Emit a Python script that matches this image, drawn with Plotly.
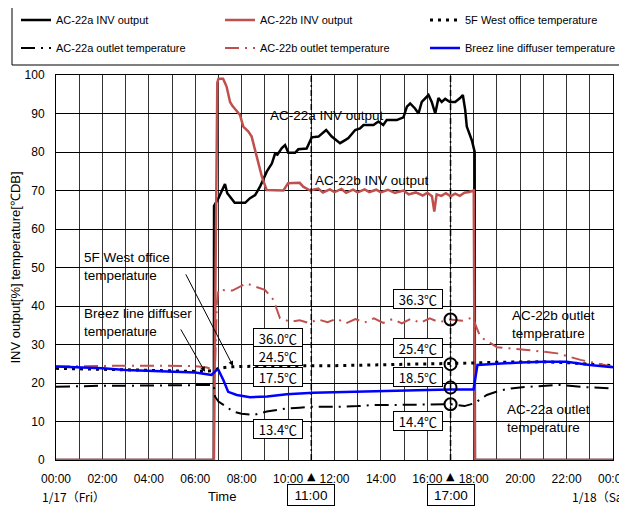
import plotly.graph_objects as go

# ---------------- data ----------------
inv_a_t = [0, 6.80, 6.81, 7.0, 7.28, 7.38, 7.5, 7.7, 7.93, 8.15, 8.36, 8.58, 8.79, 9.08, 9.3, 9.44, 9.54, 9.73,
           9.87, 10.01, 10.3, 10.44, 10.8, 11.02, 11.31, 11.64, 11.88, 12.24, 12.46, 12.6, 12.89, 13.1, 13.25,
           13.68, 13.89, 14.1, 14.25, 14.68, 14.97, 15.12, 15.26, 15.47, 15.62, 15.76, 16.05, 16.19, 16.34,
           16.48, 16.62, 16.77, 16.98, 17.2, 17.41, 17.53, 17.63, 17.7, 17.92, 18.04, 18.05, 24]
inv_a_v = [0, 0, 66, 68, 71.7, 69.3, 68.4, 66.8, 66.8, 66.8, 68, 68.8, 71, 74.9, 77, 79.6, 79.3, 81,
           81.8, 79.8, 79.8, 80.7, 80.9, 83.8, 84, 85.7, 84, 82.3, 83.1, 83.6, 85.7, 86.1, 87,
           87, 87.9, 87, 88.3, 88.3, 89, 91.8, 92.6, 91.3, 90, 93, 94.8, 93, 90,
           94, 93, 93.8, 93, 93, 94, 94.8, 91, 86.6, 83, 80, 0, 0]

inv_b_t = [0, 6.80, 6.95, 7.0, 7.2, 7.35, 7.5, 7.6, 7.93, 8.07, 8.29, 8.43, 8.65, 8.87, 9.08, 9.5, 9.8, 10.0,
           10.5, 10.65, 10.95, 11.3, 11.5, 11.8, 12.0, 12.3, 12.5, 12.8, 13.0, 13.3, 13.5, 13.8, 14.0, 14.3,
           14.6, 14.97, 15.2, 15.5, 15.8, 16.0, 16.2, 16.3, 16.4, 16.6, 16.8, 17.0, 17.2, 17.4, 17.6, 17.8,
           18.0, 18.05, 24]
inv_b_v = [0, 0, 98, 99, 99, 97, 93, 92, 89.6, 86.6, 85.3, 84, 78.8, 73.6, 70.1, 70, 70, 71.9,
           72, 71, 70, 70.5, 69.5, 70.3, 69.6, 70.4, 69.4, 70.2, 69.5, 70.3, 69.6, 70.2, 69.5, 70.2,
           69.4, 70, 69, 69.5, 68.7, 69.4, 68.5, 64.5, 69, 68.6, 69.3, 68.5, 69.2, 68.6, 69.4, 69.6,
           70, 0, 0]

office_t = [0, 2, 4, 6, 6.8, 7.0, 7.5, 8, 9, 10, 11, 12, 13, 14, 15, 16, 17, 17.5, 18, 19, 20, 21, 22, 23, 24]
office_v = [23.8, 23.6, 23.3, 23.0, 23.2, 23.8, 24.2, 24.3, 24.4, 24.5, 24.5, 24.5, 24.6, 24.7, 24.8,
            24.9, 25.0, 25.0, 25.2, 25.4, 25.5, 25.5, 25.3, 24.9, 24.5]

out_a_t = [0, 1, 2, 3, 4, 5, 6, 6.5, 6.8, 6.85, 7.0, 7.3, 7.63, 8.0, 8.5, 9.08, 9.5, 9.94, 10.5, 11, 11.5,
           12.24, 13, 13.7, 14.5, 15.5, 16.3, 17, 17.6, 18.0, 18.3, 18.56, 19.1, 19.6, 20.3, 21, 21.7,
           22.6, 23.3, 24]
out_a_v = [19.0, 19.2, 19.3, 19.3, 19.4, 19.4, 19.5, 19.5, 19.5, 16.5, 15.2, 14.0, 12.6, 12.0, 11.7, 12.6,
           13.0, 13.4, 13.6, 13.8, 13.8, 13.8, 14.0, 14.3, 14.3, 14.4, 14.5, 14.5, 14.0, 14.7, 15.8, 16.9,
           18.0, 18.6, 19.0, 19.3, 19.5, 19.0, 18.8, 18.6]

out_b_t = [0, 1, 2, 3, 4, 5, 6, 6.5, 6.85, 6.93, 7.0, 7.6, 8.2, 8.6, 9.0, 9.37, 9.65, 10.1, 10.5, 10.9,
           11.3, 11.7, 12.1, 12.5, 12.9, 13.3, 13.7, 14.1, 14.5, 14.9, 15.3, 15.7, 16.1, 16.5, 17.0, 17.5,
           17.95, 18.28, 19.0, 20.3, 21.6, 22.6, 24]
out_b_v = [24.3, 24.4, 24.4, 24.5, 24.5, 24.4, 24.4, 24.0, 23.4, 40.7, 44.2, 44.0, 45.9, 45.0, 44.2, 41.6,
           36.8, 35.9, 36.3, 35.6, 36.5, 35.8, 36.7, 35.5, 36.6, 35.7, 36.8, 35.6, 36.6, 35.5, 36.7, 35.6,
           36.8, 35.8, 36.5, 36.2, 37.0, 32.0, 29.3, 28.6, 27.7, 26.0, 24.2]

breez_t = [0, 1, 2, 3, 4, 5, 6, 6.5, 6.7, 6.93, 7.0, 7.21, 7.42, 7.79, 8.36, 9.1, 9.94, 11.09, 12.24, 13,
           14, 15, 16, 17, 17.99, 18.16, 18.5, 19, 20, 21, 22, 22.6, 23, 24]
breez_v = [24.3, 24.1, 23.8, 23.4, 23.2, 23.0, 22.7, 22.3, 22.1, 23.4, 23.4, 20.8, 17.7, 16.9, 16.3, 16.5,
           17.1, 17.5, 17.7, 17.8, 18.0, 18.1, 18.2, 18.3, 18.3, 24.7, 24.9, 25.0, 25.3, 25.5, 25.5, 25.0,
           24.7, 24.1]

x_tick_vals = [0, 2, 4, 6, 8, 10, 12, 14, 16, 18, 20, 22, 24]
x_tick_text = ["00:00", "02:00", "04:00", "06:00", "08:00", "10:00", "12:00", "14:00", "16:00",
               "18:00", "20:00", "22:00", "00:00"]

mark_times = [11, 17]
mark_labels = ["11:00", "17:00"]
left_callouts = ["36.0℃", "24.5℃", "17.5℃", "13.4℃"]
right_callouts = ["36.3℃", "25.4℃", "18.5℃", "14.4℃"]
circle_values = [36.5, 24.9, 18.8, 14.5]

RED = "#C0504D"
FONT = "Liberation Sans"

# page body has an 8px default margin, so the figure is offset by 8px
OFF = 8
W, H = 627 - OFF, 507 - OFF
L, R, T, B = 56 - OFF, 14, 75 - OFF, 47


def px(X):  # window pixel X -> paper x
    return (X - 56) / 557


def py(Y):  # window pixel Y -> paper y
    return (460 - Y) / 385


fig = go.Figure()

series = [
    ("AC-22a INV output", inv_a_t, inv_a_v, dict(color="black", width=2.5)),
    ("AC-22b INV output", inv_b_t, inv_b_v, dict(color=RED, width=2.5)),
    ("5F West office temperature", office_t, office_v, dict(color="black", width=3, dash="3px,5px")),
    ("AC-22a outlet temperature", out_a_t, out_a_v, dict(color="black", width=2, dash="14px,6px,2px,6px")),
    ("AC-22b outlet temperature", out_b_t, out_b_v, dict(color=RED, width=2, dash="14px,6px,2px,6px")),
    ("Breez line diffuser temperature", breez_t, breez_v, dict(color="#0000FF", width=2.5)),
]
legend_pos = [(16, 20), (220, 20), (425, 20), (16, 48), (220, 48), (425, 48)]

legend_layout = {}
for i, ((name, t, v, ln), (lx, ly)) in enumerate(zip(series, legend_pos)):
    key = "legend" if i == 0 else f"legend{i + 1}"
    fig.add_trace(go.Scatter(x=t, y=v, mode="lines", name=name, line=ln, legend=key))
    legend_layout[key] = dict(x=px(lx), y=py(ly), xanchor="left", yanchor="middle",
                              orientation="h", itemwidth=30, bgcolor="rgba(0,0,0,0)", borderwidth=0,
                              font=dict(family=FONT, size=11, color="black"), itemclick=False)

fig.update_layout(
    width=W, height=H,
    margin=dict(l=L, r=R, t=T, b=B, autoexpand=False),
    paper_bgcolor="white", plot_bgcolor="white",
    showlegend=True,
    font=dict(family=FONT, color="black"),
    **legend_layout,
)

fig.update_xaxes(range=[0, 24], tickvals=x_tick_vals, ticktext=x_tick_text, showgrid=True,
                 gridcolor="#333333", gridwidth=1, showline=True, linecolor="black", mirror=True,
                 ticks="", tickfont=dict(size=12, family=FONT), ticklabelstandoff=8,
                 ticklabeloverflow="allow",
                 minor=dict(dtick=1, tick0=0, showgrid=True, gridcolor="#333333", gridwidth=1),
                 zeroline=False, layer="below traces")
fig.update_yaxes(range=[0, 100], dtick=10, showgrid=True, gridcolor="black", gridwidth=1,
                 showline=True, linecolor="black", mirror=True, ticks="", zeroline=False,
                 tickfont=dict(size=12, family=FONT), ticklabelstandoff=8,
                 title=dict(text="INV output[%] temperature[℃DB]", font=dict(size=13, family=FONT),
                            standoff=4))

# legend frame
fig.add_shape(type="rect", xref="paper", yref="paper", x0=px(12), x1=px(640), y0=py(65), y1=py(6),
              line=dict(color="black", width=1), fillcolor="rgba(0,0,0,0)", layer="above")

# vertical marker lines
for t in mark_times:
    fig.add_shape(type="line", xref="x", yref="y", x0=t, x1=t, y0=0, y1=100,
                  line=dict(color="black", width=1.5, dash="6px,3px,2px,3px"), layer="above")

# circles at 17:00
for v in circle_values:
    fig.add_shape(type="circle", xref="x", yref="y", x0=17 - 6 / 23.2, x1=17 + 6 / 23.2,
                  y0=v - 6 / 3.85, y1=v + 6 / 3.85, line=dict(color="black", width=2))

ann_font = dict(family=FONT, size=13.5, color="black")
box_font = dict(family="Noto Sans CJK JP", size=13, color="black")

# series labels
fig.add_annotation(x=9.14, y=89.6, text="AC-22a INV output", showarrow=False, xanchor="left",
                   font=ann_font)
fig.add_annotation(x=11.08, y=72.5, text="AC-22b INV output", showarrow=False, xanchor="left",
                   font=ann_font)
fig.add_annotation(x=1.12, y=50.2, text="5F West office<br>temperature", showarrow=False,
                   xanchor="left", align="left", font=ann_font)
fig.add_annotation(x=1.12, y=35.8, text="Breez line diffuser<br>temperature", showarrow=False,
                   xanchor="left", align="left", font=ann_font)
fig.add_annotation(x=19.57, y=35.1, text="AC-22b outlet<br>temperature", showarrow=False,
                   xanchor="left", align="left", font=ann_font)
fig.add_annotation(x=19.35, y=10.9, text="AC-22a outlet<br>temperature", showarrow=False,
                   xanchor="left", align="left", font=ann_font)

# arrows
fig.add_annotation(x=7.63, y=24.4, ax=5.56, ay=48.6, axref="x", ayref="y", text="", showarrow=True,
                   arrowhead=2, arrowsize=1, arrowwidth=1, arrowcolor="black")
fig.add_annotation(x=6.42, y=22.9, ax=5.34, ay=34.3, axref="x", ayref="y", text="", showarrow=True,
                   arrowhead=2, arrowsize=1, arrowwidth=1, arrowcolor="black")

# callout boxes
left_y = [31.7, 27.0, 21.6, 8.05]
right_y = [41.8, 29.1, 21.6, 10.1]
for txt, yv in zip(left_callouts, left_y):
    fig.add_annotation(x=9.57, y=yv, text=txt, showarrow=False, bgcolor="white", bordercolor="black",
                       borderwidth=1, borderpad=1, width=46, height=16, font=box_font)
for txt, yv in zip(right_callouts, right_y):
    fig.add_annotation(x=15.6, y=yv, text=txt, showarrow=False, bgcolor="white", bordercolor="black",
                       borderwidth=1, borderpad=1, width=46, height=16, font=box_font)

# markers below axis
for t, lab in zip(mark_times, mark_labels):
    fig.add_annotation(x=t, y=py(477), yref="paper", text="▲", showarrow=False,
                       xanchor="center", yanchor="middle",
                       font=dict(family="DejaVu Sans", size=11, color="black"))
    fig.add_annotation(x=t, y=py(495), yref="paper", text=lab, showarrow=False, bgcolor="white",
                       xanchor="center", yanchor="middle",
                       bordercolor="black", borderwidth=1, borderpad=2, width=42, height=16,
                       font=dict(family=FONT, size=13.5, color="black"))

fig.add_annotation(x=px(73), y=py(497), xref="paper", yref="paper", text="1/17（Fri）",
                   showarrow=False, xanchor="center", yanchor="middle",
                   font=dict(family="Noto Sans CJK JP", size=12, color="black"))
fig.add_annotation(x=px(222), y=py(497), xref="paper", yref="paper", text="Time",
                   showarrow=False, xanchor="center", yanchor="middle",
                   font=dict(family=FONT, size=13, color="black"))
fig.add_annotation(x=px(570), y=py(497), xref="paper", yref="paper", text="1/18（Sat）",
                   showarrow=False, xanchor="left", yanchor="middle",
                   font=dict(family="Noto Sans CJK JP", size=12, color="black"))

fig.write_html("out.html")
